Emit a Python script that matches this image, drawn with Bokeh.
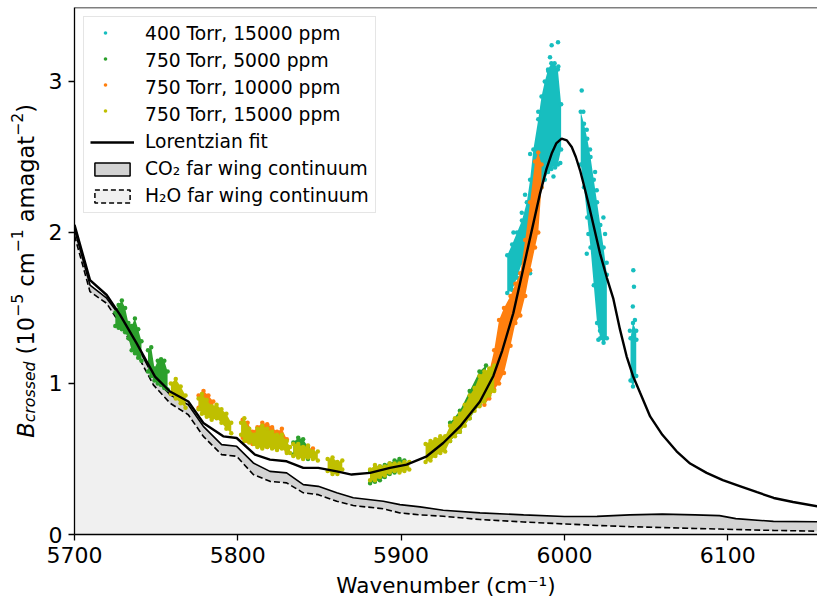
import numpy as np
from bokeh.plotting import figure
from bokeh.layouts import row
from bokeh.models import Legend, LegendItem, Label, FixedTicker, Span, Range1d, Title
from bokeh.embed import file_html
from bokeh.resources import INLINE

# ---------------- data ----------------
x_ticks = [5700, 5800, 5900, 6000, 6100]
y_ticks = [0, 1, 2, 3]

# continuum (H2O far wing, and H2O + CO2 far wing)
cont_wn = [5700, 5709.5, 5719.7, 5728.9, 5739.1, 5748.3, 5758.5, 5769.7, 5778.9, 5790.1,
           5799.3, 5809.5, 5819.7, 5829.9, 5840.1, 5849.3, 5860.6, 5870.7, 5889.1, 5899.3,
           5911.6, 5925.8, 5948.3, 5975, 6000, 6020, 6040, 6060, 6080, 6095, 6105, 6128, 6155]
h2o_cont = [1.98, 1.608, 1.531, 1.377, 1.178, 0.991, 0.870, 0.793, 0.650, 0.529,
            0.518, 0.397, 0.352, 0.342, 0.276, 0.264, 0.220, 0.192, 0.170, 0.143,
            0.130, 0.121, 0.099, 0.083, 0.070, 0.060, 0.052, 0.046, 0.040, 0.036, 0.033, 0.027, 0.022]
total_cont = [2.02, 1.652, 1.565, 1.432, 1.234, 1.046, 0.925, 0.859, 0.716, 0.595,
              0.584, 0.474, 0.418, 0.408, 0.330, 0.319, 0.276, 0.243, 0.220, 0.198,
              0.183, 0.161, 0.143, 0.130, 0.119, 0.120, 0.130, 0.135, 0.130, 0.125, 0.105, 0.087, 0.084]

# Lorentzian fit (continuum + line)
fit_wn = [5700, 5709.5, 5719.7, 5727.9, 5738, 5749.3, 5758.5, 5769.7, 5778.9, 5791.1,
          5799.3, 5810.5, 5819.7, 5829.9, 5840.1, 5849.3, 5860.6, 5869.7, 5881, 5893.2,
          5903.4, 5915.7, 5925.8, 5936.1, 5948.3, 5956.5, 5962, 5968.7, 5976.9, 5985.1,
          5989, 5992.2, 5995, 5998.3, 6001.5, 6004.5, 6007, 6009.6, 6012.5, 6015.7,
          6021.8, 6026, 6030, 6034, 6038.1, 6042, 6046.3, 6052.5, 6060, 6068.7,
          6077, 6087.1, 6097, 6107.8, 6118, 6128.2, 6140, 6155]
fit_val = [2.05, 1.685, 1.586, 1.454, 1.267, 1.046, 0.947, 0.881, 0.738, 0.650,
           0.639, 0.529, 0.496, 0.485, 0.441, 0.441, 0.418, 0.397, 0.408, 0.441,
           0.463, 0.518, 0.606, 0.716, 0.881, 1.05, 1.22, 1.465, 1.862, 2.259,
           2.42, 2.523, 2.59, 2.622, 2.61, 2.566, 2.50, 2.412, 2.29, 2.148,
           1.862, 1.70, 1.56, 1.36, 1.18, 1.05, 0.94, 0.782, 0.66, 0.551,
           0.47, 0.408, 0.36, 0.319, 0.28, 0.242, 0.215, 0.187]

# measured point clouds: segment id, wavenumber, lower and upper edge of the cloud
cyan_seg = [0] * 15 + [1] * 9 + [2] * 3
cyan_wn = [5965, 5968, 5971, 5974, 5977, 5979, 5981, 5984, 5986, 5988, 5990, 5992, 5994, 5996, 5998,
           6010, 6012, 6014, 6016, 6018, 6020, 6022, 6024, 6026,
           6040.5, 6042, 6044]
cyan_lo = [1.60, 1.62, 1.70, 1.80, 1.88, 1.95, 2.05, 2.25, 2.30, 2.35, 2.40, 2.42, 2.45, 2.45, 2.55,
           2.45, 2.30, 2.10, 1.90, 1.65, 1.40, 1.30, 1.27, 1.30,
           1.02, 0.98, 1.05]
cyan_hi = [1.85, 1.92, 2.00, 2.08, 2.20, 2.35, 2.55, 2.75, 2.90, 3.00, 3.08, 3.12, 3.12, 3.08, 2.85,
           2.80, 2.72, 2.62, 2.50, 2.35, 2.20, 2.05, 1.90, 1.72,
           1.30, 1.40, 1.35]
cyan_pts_wn = [5996.1, 5992.2, 5991.2, 5990.1, 5996.3, 5989.1, 5984, 5979, 5975.9, 5973.9,
               5968.8, 5967.8, 5966.8, 5970.9, 5975, 5979, 5994.3, 5993.3, 5997.5,
               6010.6, 6011.6, 6013.7, 6015.7, 6018.8, 6019.8, 6023.9, 6024.9, 6025.9,
               6020.8, 6021.8, 6013.7, 6014.7,
               6042.2, 6042.6, 6041.9, 6043.2, 6040.1, 6044.1, 6041.5]
cyan_pts_val = [3.26, 3.24, 3.16, 3.07, 3.10, 2.99, 2.80, 2.52, 2.25, 2.13,
                2.00, 1.73, 1.52, 1.73, 1.86, 1.73, 2.43, 2.37, 2.46,
                2.94, 2.80, 2.68, 2.55, 2.40, 2.28, 2.10, 1.99, 1.80,
                1.29, 1.35, 1.86, 1.99,
                1.75, 1.64, 1.51, 1.42, 1.35, 1.29, 1.02]

green_seg = [0] * 9 + [1] * 7 + [2] * 3 + [3] * 4 + [4] * 8 + [5] * 5
green_wn = [5725, 5727, 5729, 5731, 5733, 5735, 5737, 5739, 5741,
            5745, 5747, 5749, 5751, 5753, 5755, 5757,
            5815, 5818, 5821,
            5834, 5837, 5840, 5843,
            5881, 5884, 5887, 5890, 5893, 5896, 5899, 5902,
            5930, 5936, 5942, 5948, 5952]
green_lo = [1.38, 1.37, 1.36, 1.34, 1.30, 1.22, 1.20, 1.17, 1.15,
            1.08, 1.05, 1.02, 1.00, 0.99, 0.97, 0.96,
            0.60, 0.60, 0.59,
            0.53, 0.52, 0.51, 0.50,
            0.34, 0.35, 0.36, 0.38, 0.40, 0.41, 0.42, 0.43,
            0.62, 0.68, 0.77, 0.86, 0.90]
green_hi = [1.47, 1.52, 1.55, 1.50, 1.40, 1.38, 1.43, 1.36, 1.28,
            1.22, 1.24, 1.10, 1.15, 1.16, 1.15, 1.08,
            0.71, 0.72, 0.70,
            0.61, 0.64, 0.63, 0.58,
            0.42, 0.44, 0.45, 0.46, 0.47, 0.49, 0.50, 0.49,
            0.74, 0.82, 0.95, 1.08, 1.12]

orange_seg = [0] * 4 + [1] * 10 + [2] * 2 + [3] * 13
orange_wn = [5776, 5779, 5782, 5785,
             5803, 5806, 5809, 5812, 5815, 5818, 5821, 5824, 5827, 5830,
             5838, 5846,
             5951, 5954, 5957, 5960, 5963, 5967, 5970, 5973, 5976, 5979, 5982, 5984, 5986]
orange_lo = [0.84, 0.82, 0.80, 0.78,
             0.64, 0.62, 0.60, 0.59, 0.58, 0.58, 0.58, 0.57, 0.58, 0.55,
             0.52, 0.51,
             0.86, 0.90, 0.96, 1.00, 1.07, 1.25, 1.40, 1.45, 1.58, 1.75, 1.90, 2.00, 2.30]
orange_hi = [0.92, 0.95, 0.92, 0.88,
             0.76, 0.74, 0.68, 0.71, 0.74, 0.73, 0.71, 0.68, 0.70, 0.63,
             0.57, 0.57,
             0.98, 1.08, 1.22, 1.42, 1.50, 1.58, 1.66, 1.73, 1.95, 2.20, 2.47, 2.53, 2.45]

yellow_seg = [0] * 4 + [1] * 8 + [2] * 12 + [3] * 6 + [4] * 4 + [5] * 9 + [6] * 15
yellow_wn = [5759, 5762, 5765, 5768,
             5776, 5778, 5781, 5784, 5787, 5790, 5793, 5796,
             5802, 5804, 5807, 5810, 5812, 5815, 5818, 5821, 5824, 5827, 5830, 5832,
             5834, 5837, 5840, 5843, 5846, 5849,
             5855, 5858, 5861, 5864,
             5881, 5884, 5887, 5890, 5893, 5896, 5899, 5902, 5905,
             5915, 5918, 5921, 5924, 5927, 5930, 5933, 5936, 5939, 5942, 5945, 5948, 5951, 5954, 5957]
yellow_lo = [0.93, 0.90, 0.87, 0.84,
             0.83, 0.80, 0.78, 0.76, 0.77, 0.74, 0.70, 0.67,
             0.66, 0.62, 0.61, 0.60, 0.58, 0.57, 0.58, 0.57, 0.56, 0.57, 0.54, 0.54,
             0.52, 0.51, 0.50, 0.51, 0.50, 0.49,
             0.42, 0.40, 0.40, 0.43,
             0.36, 0.36, 0.38, 0.39, 0.41, 0.42, 0.41, 0.42, 0.43,
             0.48, 0.49, 0.52, 0.54, 0.55, 0.62, 0.65, 0.68, 0.72, 0.77, 0.82, 0.85, 0.88, 0.92, 0.95]
yellow_hi = [1.00, 1.03, 0.98, 0.92,
             0.90, 0.93, 0.89, 0.85, 0.86, 0.83, 0.80, 0.74,
             0.74, 0.77, 0.70, 0.66, 0.70, 0.72, 0.70, 0.68, 0.66, 0.66, 0.62, 0.58,
             0.60, 0.60, 0.58, 0.59, 0.55, 0.55,
             0.50, 0.51, 0.48, 0.49,
             0.43, 0.46, 0.45, 0.45, 0.47, 0.47, 0.47, 0.48, 0.48,
             0.60, 0.62, 0.63, 0.65, 0.65, 0.72, 0.77, 0.80, 0.86, 0.92, 0.97, 1.05, 1.08, 1.10, 1.12]

series_labels = ["400 Torr, 15000 ppm", "750 Torr, 5000 ppm", "750 Torr, 10000 ppm", "750 Torr, 15000 ppm"]
series_colors = ["#17bebf", "#2ca02c", "#ff7f0e", "#bfbf00"]

FONT = "DejaVu Sans"
H = 603
FRAME_TOP, FRAME_BOTTOM = 7, 535   # page px of the plot frame (shared by both row members)

# ---------------- y-axis title strip (math-style title built from pieces) ----------------
# Bokeh aligns the frames of plots in a row, so this strip's frame spans FRAME_TOP..FRAME_BOTTOM;
# its y range is expressed in page pixels measured upward from FRAME_BOTTOM.
yt = figure(width=40, height=H, x_range=Range1d(0, 40),
            y_range=Range1d(0, FRAME_BOTTOM - FRAME_TOP),
            output_backend="svg", toolbar_location=None,
            x_axis_location=None, y_axis_location=None, min_border=0)
yt.outline_line_color = None
yt.grid.visible = False

# approximate DejaVu advance widths (em) used to chain the pieces
ADV = {"B": 0.686, "c": 0.55, "r": 0.411, "o": 0.612, "s": 0.521, "e": 0.615, "d": 0.635,
       " ": 0.318, "(": 0.39, ")": 0.39, "1": 0.636, "0": 0.636, "5": 0.636, "2": 0.636,
       "\u2212": 0.838, "m": 0.974, "a": 0.613, "g": 0.635, "t": 0.392}
F_MAIN, F_SUB = 22.5, 15.75
BASE_X = 35.0            # baseline (page px) of the title
START_Y = 438.0          # page px where the title starts (bottom end)
CAL_X = -10.0            # rendering calibration of rotated labels
pieces = [("B", F_MAIN, "italic", 0.0), ("crossed", F_SUB, "italic", 3.5),
          (" (10", F_MAIN, "normal", 0.0), ("\u22125", F_SUB, "normal", -9.0),
          (" cm", F_MAIN, "normal", 0.0), ("\u22121", F_SUB, "normal", -9.0),
          (" amagat", F_MAIN, "normal", 0.0), ("\u22122", F_SUB, "normal", -9.0),
          (")", F_MAIN, "normal", 0.0)]
pos = START_Y
for txt, fs, style, shift in pieces:
    while txt.startswith(" "):          # leading blanks are collapsed when drawn: advance instead
        pos -= ADV[" "] * fs
        txt = txt[1:]
    yt.add_layout(Label(x=BASE_X + shift + CAL_X, y=FRAME_BOTTOM - pos, text=txt,
                        angle=np.pi / 2, text_font=FONT, text_font_style=style,
                        text_font_size=f"{fs}px", text_align="left",
                        text_baseline="alphabetic", text_color="black"))
    pos -= sum(ADV[ch] for ch in txt) * fs

# ---------------- main figure ----------------
p = figure(width=777, height=H, x_range=Range1d(5700, 6155), y_range=Range1d(0, 3.49),
           output_backend="svg", toolbar_location=None,
           min_border_left=34, min_border_right=0, min_border_top=FRAME_TOP,
           min_border_bottom=H - FRAME_BOTTOM)
p.grid.visible = False
p.outline_line_color = None

for ax, ticks in ((p.xaxis, x_ticks), (p.yaxis, y_ticks)):
    ax.ticker = FixedTicker(ticks=ticks)
    ax.major_label_text_font = FONT
    ax.major_label_text_font_size = "22px"
    ax.major_label_text_color = "black"
    ax.axis_line_color = "black"
    ax.axis_line_width = 1.3
    ax.major_tick_line_color = "black"
    ax.major_tick_line_width = 1.3
    ax.major_tick_in = 0
    ax.major_tick_out = 6
    ax.minor_tick_in = 0
    ax.minor_tick_out = 0
    ax.major_label_standoff = 6
p.add_layout(Span(location=p.y_range.end, dimension="width", line_color="black", line_width=1.3))

# continuum fills
p.varea(x=cont_wn, y1=0, y2=total_cont, fill_color="#d3d3d3")
p.varea(x=cont_wn, y1=0, y2=h2o_cont, fill_color="#f0f0f0")
p.line(cont_wn, total_cont, line_color="black", line_width=1.6)
p.line(cont_wn, h2o_cont, line_color="black", line_width=1.6, line_dash="6 3")


def draw_series(seg, wn, lo, hi, color, extra_wn=(), extra_val=()):
    seg = np.asarray(seg)
    wn = np.asarray(wn, float)
    lo = np.asarray(lo, float)
    hi = np.asarray(hi, float)
    for s in np.unique(seg):
        m = seg == s
        p.varea(x=wn[m], y1=lo[m], y2=hi[m], fill_color=color)
    xs = np.concatenate([wn, wn, np.asarray(extra_wn, float)])
    ys = np.concatenate([lo, hi, np.asarray(extra_val, float)])
    return p.scatter(xs, ys, size=4.5, fill_color=color, line_color=None)


pt_rs = [
    draw_series(cyan_seg, cyan_wn, cyan_lo, cyan_hi, series_colors[0], cyan_pts_wn, cyan_pts_val),
    draw_series(green_seg, green_wn, green_lo, green_hi, series_colors[1]),
    draw_series(orange_seg, orange_wn, orange_lo, orange_hi, series_colors[2]),
    draw_series(yellow_seg, yellow_wn, yellow_lo, yellow_hi, series_colors[3]),
]

fit_r = p.line(fit_wn, fit_val, line_color="black", line_width=2.4)

# legend proxies: empty ones only carry a label, the others draw the patch symbols
blank_rs = [p.scatter(x=[], y=[], size=1, fill_color=c, line_color=None) for c in series_colors]
co2_r = p.quad(left=[cont_wn[-1]], right=[cont_wn[-1]], top=[0], bottom=[0],
               fill_color="#d3d3d3", line_color="black", line_width=1.5)
h2o_r = p.quad(left=[cont_wn[-1]], right=[cont_wn[-1]], top=[0], bottom=[0],
               fill_color="#f0f0f0", line_color="black", line_width=1.5, line_dash="5 3")

LEG_FS = "18.7px"
items = [LegendItem(label=l, renderers=[r]) for l, r in zip(series_labels, blank_rs)]
items += [LegendItem(label="Lorentzian fit", renderers=[fit_r]),
          LegendItem(label="CO\u2082 far wing continuum", renderers=[co2_r]),
          LegendItem(label="H\u2082O far wing continuum", renderers=[h2o_r])]
legend = Legend(items=items, location="top_left", margin=9, padding=6, spacing=6,
                glyph_width=44, glyph_height=16, label_height=20, label_standoff=11,
                label_text_font=FONT, label_text_font_size=LEG_FS, label_text_color="black",
                border_line_color="#cccccc", border_line_width=1.2,
                background_fill_color="white", background_fill_alpha=0.8)
p.add_layout(legend)

# small marker symbols for the four measured series, overlaid on the legend rows
dots = Legend(items=[LegendItem(label=" ", renderers=[r]) for r in pt_rs],
              location="top_left", margin=15, padding=6, spacing=6,
              glyph_width=32, glyph_height=9, label_height=20, label_standoff=0,
              label_text_font=FONT, label_text_font_size=LEG_FS,
              border_line_color=None, background_fill_alpha=0)
p.add_layout(dots)

p.add_layout(Title(text="Wavenumber (cm\u207b\u00b9)", align="center", offset=18, standoff=11,
                   text_font=FONT, text_font_size="21.5px", text_font_style="normal",
                   text_color="black"), "below")

layout = row(yt, p)
open("out.html", "w").write(file_html(layout, INLINE))
